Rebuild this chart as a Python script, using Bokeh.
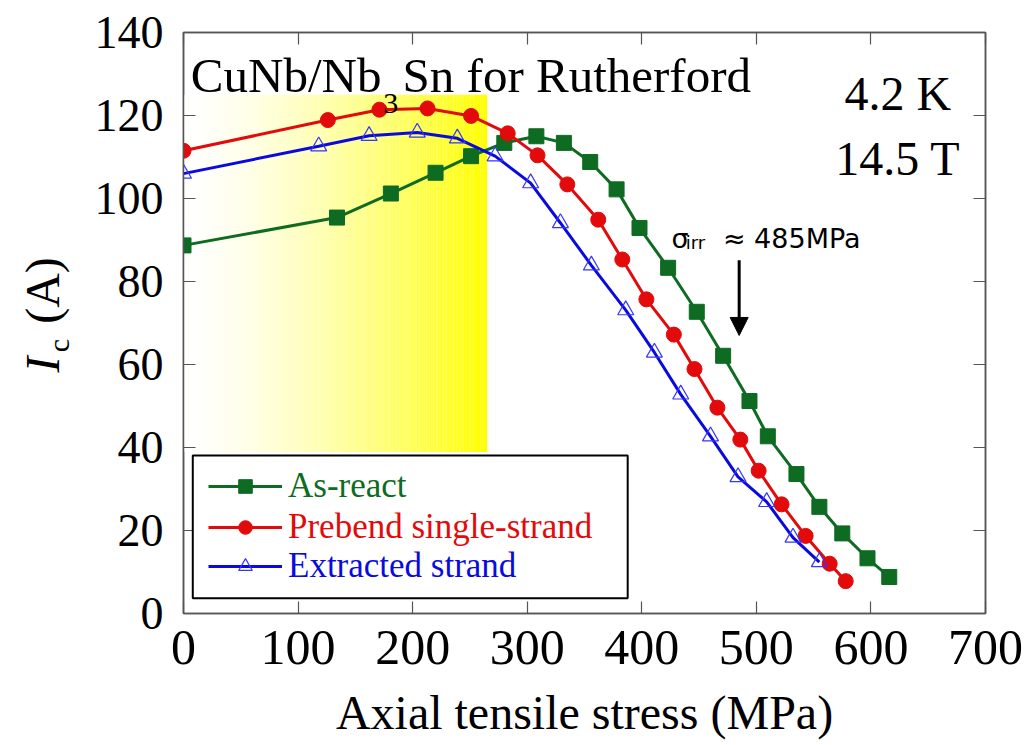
import numpy as np
from bokeh.plotting import figure
from bokeh.layouts import row
from bokeh.models import (Range1d, LinearAxis, SingleIntervalTicker, Label, Legend,
                          LegendItem, BoxAnnotation, Arrow, NormalHead,
                          CustomJSTickFormatter)
from bokeh.embed import file_html
from bokeh.resources import INLINE

# Critical current Ic (A) versus axial tensile stress (MPa), 4.2 K, 14.5 T
asreact_stress = [0, 134, 181, 220, 251, 280, 308, 332, 355, 378, 398, 423, 448,
                  471, 494, 510, 535, 555, 575, 597, 616]
asreact_ic = [88.7, 95.4, 101.2, 106.2, 110.2, 113.4, 115.0, 113.4, 108.8, 102.2,
              92.9, 83.3, 72.7, 62.1, 51.2, 42.7, 33.6, 25.7, 19.3, 13.3, 8.8]

prebend_stress = [0, 126, 171, 213, 251, 283, 309, 335, 362, 383, 404, 428, 446,
                  466, 486, 502, 522, 543, 564, 578]
prebend_ic = [111.5, 118.9, 121.4, 121.7, 119.9, 115.7, 110.4, 103.4, 94.9, 85.3,
              75.7, 67.2, 58.9, 49.6, 41.9, 34.4, 26.3, 18.7, 12.0, 7.8]

extracted_stress = [0, 118, 162, 204, 239, 272, 303, 329, 356, 386, 411, 434, 460,
                    484, 509, 532, 555]
extracted_ic = [106.0, 112.6, 115.1, 115.9, 114.5, 110.2, 103.7, 94.1, 83.9, 73.1,
                62.9, 52.8, 42.7, 32.9, 26.9, 18.3, 12.4]

series_names = ["As-react", "Prebend single-strand", "Extracted strand"]
x_ticks_interval = 100
y_ticks_interval = 20
sigma_irr = 485  # MPa, irreversible stress limit

SERIF = "Liberation Serif"
GREEN, RED, BLUE = "#0e6b22", "#e20a0a", "#0a0ae0"
H = 745
LABEL_W = 88
FRAME_TOP, FRAME_BOTTOM = 32, 613   # canvas rows of the plot frame

# narrow strip on the left that carries the rotated y-axis title;
# its frame is aligned with the main frame, so use canvas-row coordinates
side = figure(width=LABEL_W, height=H, output_backend="svg", toolbar_location=None,
              x_range=Range1d(0, LABEL_W),
              y_range=Range1d(H - FRAME_BOTTOM, H - FRAME_TOP),
              x_axis_type=None, y_axis_type=None, min_border=0)
side.outline_line_color = None
side.grid.visible = False
side.background_fill_color = "white"
side.border_fill_color = "white"
ylab = dict(angle=np.pi / 2, text_font=SERIF, text_align="center",
            text_baseline="middle", text_color="black")
side.add_layout(Label(x=42, y=H - 364, text="I", text_font_style="italic",
                      text_font_size="48px", **ylab))
side.add_layout(Label(x=58, y=H - 345, text="c", text_font_size="30px", **ylab))
side.add_layout(Label(x=42, y=H - 290, text="(A)", text_font_size="48px", **ylab))

p = figure(width=1030 - LABEL_W, height=H, output_backend="svg", toolbar_location=None,
           x_range=Range1d(0, 700), y_range=Range1d(0, 140),
           min_border_left=183 - LABEL_W, min_border_right=45, min_border_top=FRAME_TOP,
           min_border_bottom=H - FRAME_BOTTOM)
p.background_fill_color = "white"
p.border_fill_color = "white"
p.outline_line_color = "#555555"
p.outline_line_width = 1.5
p.grid.visible = False

# shaded low-stress region: white fading to yellow
shade_x0, shade_x1 = 0, 265
shade_y0, shade_y1 = 38.9, 125.0
n_strips = 90
edges = np.linspace(shade_x0, shade_x1, n_strips + 1)
mids = (edges[:-1] + edges[1:]) / 2
t = (mids - shade_x0) / (shade_x1 - shade_x0)
blue_ch = (255 * (1 - t ** 1.5)).clip(0, 255).astype(int)
strip_colors = ["#ffff%02x" % b for b in blue_ch]
p.quad(left=edges[:-1], right=edges[1:] + 0.05, bottom=shade_y0, top=shade_y1,
       fill_color=strip_colors, line_color=None)

# series
g_line = p.line(asreact_stress, asreact_ic, line_color=GREEN, line_width=3)
g_pts = p.scatter(asreact_stress, asreact_ic, marker="square", size=15,
                  fill_color=GREEN, line_color=GREEN)
r_line = p.line(prebend_stress, prebend_ic, line_color=RED, line_width=3)
r_pts = p.scatter(prebend_stress, prebend_ic, marker="circle", size=15,
                  fill_color=RED, line_color=RED)
b_line = p.line(extracted_stress, extracted_ic, line_color=BLUE, line_width=3)
b_pts = p.scatter(extracted_stress, extracted_ic, marker="triangle", size=16,
                  fill_color=None, line_color="#3535ff", line_width=1.2)

# axes: ticks inward on all four sides
def style_axis(ax, interval, font_size, standoff):
    ax.ticker = SingleIntervalTicker(interval=interval, num_minor_ticks=0)
    ax.major_tick_in = 12
    ax.major_tick_out = 0
    ax.minor_tick_line_color = None
    ax.major_tick_line_color = "#555555"
    ax.major_tick_line_width = 1.2
    ax.axis_line_color = "#555555"
    ax.axis_line_width = 1.5
    ax.major_label_text_font = SERIF
    ax.major_label_text_font_size = font_size
    ax.major_label_text_color = "black"
    ax.major_label_standoff = standoff

style_axis(p.xaxis[0], x_ticks_interval, "50px", 17)
style_axis(p.yaxis[0], y_ticks_interval, "46px", 20)

xa = p.xaxis[0]
xa.axis_label = "Axial tensile stress (MPa)"
xa.axis_label_text_font = SERIF
xa.axis_label_text_font_size = "48px"
xa.axis_label_text_font_style = "normal"
xa.axis_label_text_color = "black"
xa.axis_label_standoff = 19

blank = CustomJSTickFormatter(code="return ''")
top_axis = LinearAxis(formatter=blank)
right_axis = LinearAxis(formatter=blank)
style_axis(top_axis, x_ticks_interval, "1px", 0)
style_axis(right_axis, y_ticks_interval, "1px", 0)
p.add_layout(top_axis, "above")
p.add_layout(right_axis, "right")

# panel title with subscript 3
p.add_layout(Label(x=6.4, y=129.7, text="CuNb/Nb", text_font=SERIF,
                   text_font_size="49px", text_baseline="alphabetic", text_color="black"))
p.add_layout(Label(x=181.0, y=123.0, text="3", text_font=SERIF,
                   text_font_size="30px", text_align="center",
                   text_baseline="alphabetic", text_color="black"))
p.add_layout(Label(x=191.2, y=129.7, text="Sn for Rutherford", text_font=SERIF,
                   text_font_size="49px", text_baseline="alphabetic", text_color="black"))

# measurement conditions
p.add_layout(Label(x=623.5, y=125.4, text="4.2 K", text_font=SERIF,
                   text_font_size="48px", text_align="center",
                   text_baseline="alphabetic", text_color="black"))
p.add_layout(Label(x=623.5, y=109.7, text="14.5 T", text_font=SERIF,
                   text_font_size="48px", text_align="center",
                   text_baseline="alphabetic", text_color="black"))

# irreversible stress marker
p.add_layout(Label(x=425.9, y=90.4, text="σ", text_font="DejaVu Sans",
                   text_font_size="27px", text_baseline="alphabetic", text_color="black"))
p.add_layout(Label(x=438.4, y=89.3, text="irr", text_font="DejaVu Sans",
                   text_font_size="18px", text_baseline="alphabetic", text_color="black"))
p.add_layout(Label(x=470.8, y=90.4, text="≈ %dMPa" % sigma_irr, text_font="DejaVu Sans",
                   text_font_size="27px", text_baseline="alphabetic", text_color="black"))
p.add_layout(Arrow(end=NormalHead(size=18, fill_color="black", line_color="black"),
                   x_start=sigma_irr, y_start=85.1, x_end=sigma_irr, y_end=67.0,
                   line_width=3, line_color="black"))

# legend frame and one coloured entry per row
p.add_layout(BoxAnnotation(left=8.1, right=387.7, bottom=3.7, top=38.1,
                           fill_color="white", fill_alpha=1.0,
                           line_color="black", line_alpha=1.0, line_width=2))

rows = [(series_names[0], [g_line, g_pts], GREEN, 106.6),
        (series_names[1], [r_line, r_pts], RED, 66.0),
        (series_names[2], [b_line, b_pts], BLUE, 26.6)]
for name, rends, color, bottom in rows:
    leg = Legend(items=[LegendItem(label=name, renderers=rends)],
                 location=(25, bottom), glyph_width=74, glyph_height=34,
                 label_height=34, label_standoff=6, padding=0, spacing=0,
                 margin=0, border_line_alpha=0, background_fill_alpha=0,
                 label_text_font=SERIF, label_text_font_size="35px",
                 label_text_color=color)
    p.add_layout(leg)

layout = row(side, p, spacing=0)
open("out.html", "w").write(file_html(layout, INLINE))
